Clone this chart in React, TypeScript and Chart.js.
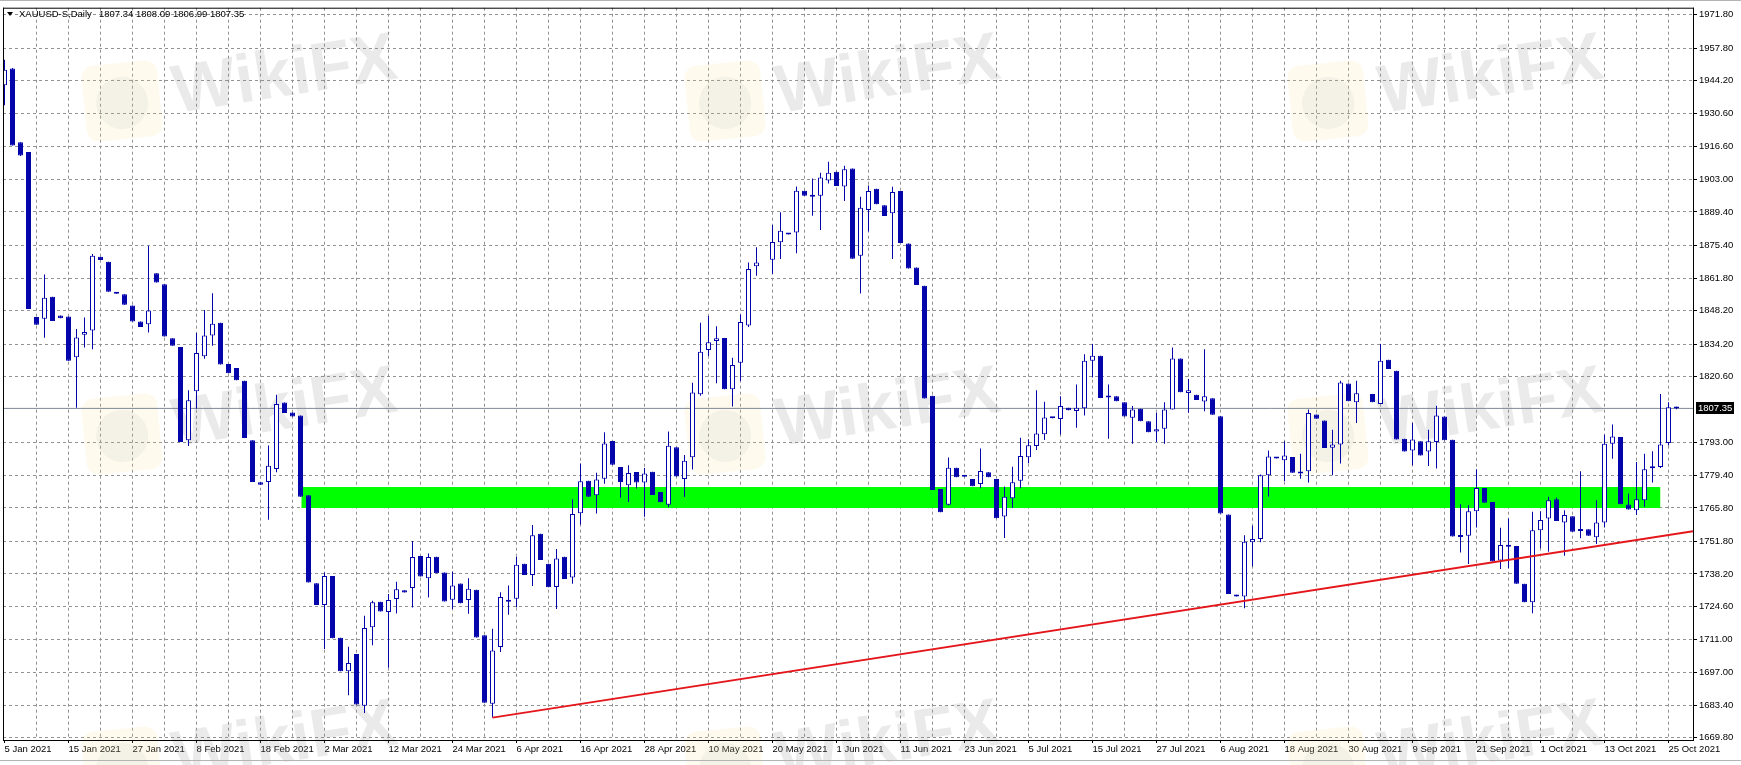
import React, { useEffect, useRef } from 'react';
import { Chart, registerables } from 'chart.js';

Chart.register(...registerables);

// XAUUSD daily bars, 5 Jan 2021 .. 26 Oct 2021 (index = bar number, null = no bar drawn)
const open = [
  1942.3, 1949.3, 1918.5, 1914.4, 1845.5, 1844.8, 1854.0, 1846.1, 1845.7, 1828.7,
  1838.1, 1839.9, 1870.7, 1868.6, 1855.8, 1855.0, 1850.3, 1843.6, 1842.5, 1863.8,
  1859.2, 1836.7, 1833.0, 1794.0, 1814.5, 1829.1, 1837.8, 1843.1, 1825.9, 1824.2,
  1818.9, 1794.0, 1776.5, 1776.6, 1782.0, 1809.8, 1805.6, 1804.4, 1771.1, 1734.3,
  1725.2, 1737.4, 1711.6, 1697.6, 1704.8, 1683.2, 1715.9, 1726.6, 1722.3, 1727.7,
  1731.4, 1732.3, 1745.7, 1736.4, 1745.4, 1738.8, 1727.4, 1734.2, 1727.3, 1731.6,
  1712.6, 1684.0, 1707.7, 1726.6, 1727.8, 1742.5, 1737.8, 1755.0, 1742.5, 1732.8,
  1745.4, 1736.7, 1763.6, 1777.1, 1771.1, 1778.0, 1793.7, 1782.9, 1775.2, 1780.8,
  1776.4, 1780.9, 1772.4, 1767.1, 1791.1, 1777.9, 1786.9, 1813.3, 1831.7, 1835.5,
  1836.8, 1815.3, 1826.4, 1842.0, 1866.7, null, 1869.4, 1876.7, 1880.5, 1880.8,
  1898.3, 1895.8, 1896.2, 1902.5, 1906.2, 1900.0, 1907.6, 1871.1, 1890.2, 1899.1,
  1892.2, 1888.9, 1898.1, 1876.2, 1866.2, 1858.6, 1812.6, 1773.7, 1767.1, 1782.6,
  1779.0, 1777.9, 1775.8, 1780.7, 1777.9, 1762.2, 1769.8, 1777.1, 1786.9, 1791.6,
  1796.6, 1803.4, 1802.9, 1807.6, 1806.3, 1807.4, 1827.3, 1829.3, 1812.3, 1812.4,
  1809.9, 1803.4, 1807.2, 1802.0, 1797.7, 1798.8, 1806.9, 1828.2, 1813.8, 1813.0,
  1810.2, 1811.6, 1804.1, 1763.0, 1729.5, 1728.8, 1751.4, 1752.8, 1779.4, 1786.9,
  1785.7, 1787.0, 1780.7, 1781.1, 1804.8, 1802.3, 1790.9, 1792.3, 1817.8, 1809.9,
  null, 1813.4, 1809.2, 1827.7, 1823.1, 1794.7, 1789.8, 1793.6, 1789.4, 1793.3,
  1804.0, 1794.3, 1754.0, 1754.2, 1764.4, 1774.1, 1768.3, 1743.8, 1749.9, 1749.9,
  1734.1, 1726.4, 1756.5, 1761.4, 1769.4, 1759.7, 1762.3, 1756.5, 1756.9, 1753.5,
  1759.7, 1792.6, 1795.4, 1767.2, 1764.8, 1769.0, 1782.7, 1782.9, 1792.9, 1807.34,
];

const high = [
  1953.0, 1949.5, 1918.5, 1914.4, 1845.5, 1863.3, 1854.0, 1846.1, 1845.7, 1840.5,
  1845.3, 1871.8, 1870.7, 1868.6, 1855.8, 1855.0, 1850.3, 1843.6, 1875.3, 1863.8,
  1859.2, 1836.7, 1833.0, 1814.9, 1838.8, 1848.5, 1855.4, 1843.1, 1825.9, 1824.2,
  1818.9, 1794.0, 1776.5, 1791.9, 1813.0, 1809.8, 1805.6, 1804.4, 1771.1, 1734.3,
  1738.8, 1737.4, 1711.6, 1707.8, 1704.8, 1720.7, 1727.0, 1726.6, 1729.8, 1734.9,
  1731.4, 1752.0, 1745.7, 1746.7, 1745.4, 1738.8, 1739.2, 1734.2, 1736.4, 1731.6,
  1712.6, 1715.3, 1730.6, 1733.4, 1745.4, 1742.5, 1758.6, 1755.0, 1742.5, 1748.6,
  1745.4, 1769.4, 1784.3, 1777.1, 1780.5, 1797.4, 1793.7, 1782.9, 1783.6, 1780.8,
  1782.5, 1780.9, 1772.4, 1797.7, 1791.1, 1787.9, 1818.1, 1843.1, 1845.9, 1841.7,
  1836.8, 1828.5, 1846.6, 1868.3, 1874.7, null, 1884.0, 1889.3, 1880.5, 1900.0,
  1898.3, 1903.4, 1905.8, 1910.4, 1906.2, 1908.7, 1907.6, 1895.8, 1900.5, 1899.1,
  1892.2, 1899.9, 1898.1, 1876.2, 1866.2, 1858.6, 1812.6, 1773.7, 1786.8, 1782.6,
  1779.0, 1777.9, 1790.6, 1780.7, 1777.9, 1774.7, 1783.0, 1795.1, 1794.5, 1814.9,
  1810.1, 1803.4, 1812.4, 1807.6, 1817.3, 1830.0, 1834.2, 1829.3, 1817.3, 1812.4,
  1809.9, 1808.3, 1807.2, 1802.0, 1805.5, 1809.9, 1832.8, 1828.2, 1819.6, 1813.0,
  1832.1, 1811.6, 1804.1, 1763.0, 1729.5, 1754.4, 1758.3, 1779.7, 1789.8, 1786.9,
  1793.6, 1787.0, 1788.4, 1806.9, 1804.8, 1802.3, 1798.4, 1818.9, 1817.8, 1818.9,
  null, 1813.4, 1834.2, 1827.7, 1823.1, 1794.7, 1801.3, 1793.6, 1798.4, 1808.5,
  1804.0, 1794.3, 1767.3, 1766.9, 1781.9, 1774.1, 1768.3, 1757.5, 1761.4, 1749.9,
  1734.1, 1764.2, 1764.4, 1770.4, 1770.0, 1764.8, 1762.3, 1781.1, 1756.9, 1769.0,
  1796.3, 1800.6, 1795.4, 1771.8, 1785.0, 1788.4, 1789.5, 1813.4, 1809.9, 1808.09,
];

const low = [
  1934.0, 1917.2, 1912.8, 1848.9, 1842.3, 1836.9, 1843.9, 1845.0, 1827.3, 1807.6,
  1832.8, 1832.1, 1869.3, 1856.1, 1855.2, 1850.6, 1843.6, 1841.3, 1839.1, 1859.9,
  1837.4, 1833.5, 1793.3, 1791.6, 1807.2, 1828.1, 1833.5, 1825.7, 1822.0, 1819.1,
  1795.0, 1776.6, 1775.5, 1760.8, 1780.7, 1805.4, 1804.0, 1770.4, 1734.6, 1725.2,
  1706.9, 1711.3, 1697.6, 1687.5, 1683.7, 1680.1, 1708.4, 1722.5, 1699.0, 1721.7,
  1730.5, 1724.2, 1737.1, 1728.4, 1738.5, 1726.7, 1723.6, 1726.0, 1721.6, 1711.7,
  1684.4, 1678.2, 1705.6, 1721.2, 1724.3, 1737.8, 1733.2, 1744.0, 1732.7, 1723.6,
  1736.1, 1734.1, 1758.9, 1770.4, 1763.5, 1775.9, 1783.8, 1770.0, 1768.3, 1773.9,
  1762.1, 1771.2, 1768.2, 1766.1, 1778.9, 1770.3, 1781.8, 1812.6, 1829.2, 1817.9,
  1815.3, 1808.1, 1818.8, 1841.4, 1862.8, null, 1863.6, 1869.7, 1880.0, 1872.2,
  1896.2, 1887.8, 1881.9, 1901.3, 1900.2, 1894.0, 1869.9, 1855.3, 1881.2, 1892.6,
  1887.7, 1869.7, 1876.4, 1865.8, 1858.9, 1811.5, 1773.3, 1764.0, 1766.8, 1778.6,
  1778.8, 1774.8, 1774.0, 1778.6, 1761.5, 1753.2, 1765.7, 1774.0, 1784.4, 1790.0,
  1794.1, 1803.2, 1796.5, 1806.6, 1799.3, 1804.4, 1820.3, 1811.7, 1794.7, 1810.3,
  1804.0, 1792.6, 1802.0, 1797.4, 1793.3, 1792.6, 1806.9, 1814.1, 1805.5, 1810.9,
  1806.2, 1804.7, 1763.5, 1729.8, 1728.8, 1723.9, 1741.3, 1751.4, 1770.4, 1786.4,
  1776.9, 1780.5, 1778.0, 1776.4, 1803.0, 1790.8, 1779.4, 1784.3, 1810.3, 1801.3,
  null, 1809.9, 1809.2, 1823.8, 1794.4, 1789.4, 1783.6, 1787.7, 1783.3, 1782.2,
  1794.0, 1753.8, 1747.2, 1742.4, 1757.6, 1767.9, 1743.4, 1740.3, 1740.6, 1734.1,
  1726.4, 1721.8, 1748.9, 1747.5, 1760.3, 1745.8, 1755.8, 1753.1, 1754.2, 1750.7,
  1757.6, 1786.3, 1767.3, 1765.1, 1762.8, 1766.2, 1776.4, 1782.5, 1791.9, 1806.99,
];

const close = [
  1948.8, 1917.2, 1913.0, 1848.9, 1842.3, 1853.6, 1843.9, 1845.0, 1827.3, 1837.0,
  1839.3, 1871.1, 1869.3, 1856.1, 1855.2, 1850.6, 1843.6, 1841.3, 1848.2, 1859.9,
  1837.4, 1833.5, 1793.3, 1810.8, 1830.5, 1837.8, 1842.7, 1825.7, 1822.0, 1819.1,
  1795.0, 1776.6, 1775.5, 1783.4, 1809.2, 1805.4, 1804.0, 1770.4, 1734.6, 1725.2,
  1737.4, 1711.3, 1697.6, 1701.0, 1683.7, 1715.6, 1726.4, 1722.5, 1727.3, 1731.8,
  1730.5, 1745.3, 1737.1, 1745.3, 1738.5, 1726.7, 1733.4, 1726.0, 1732.0, 1711.7,
  1684.4, 1706.2, 1728.6, 1727.4, 1742.0, 1737.8, 1754.4, 1744.0, 1732.7, 1744.7,
  1736.1, 1763.2, 1776.9, 1770.4, 1777.7, 1792.7, 1783.8, 1776.6, 1780.4, 1776.4,
  1780.2, 1771.2, 1768.2, 1791.8, 1778.9, 1785.5, 1814.0, 1831.0, 1835.0, 1836.7,
  1815.3, 1825.5, 1843.4, 1865.6, 1868.3, null, 1876.8, 1881.6, 1880.0, 1898.3,
  1896.2, 1896.1, 1903.8, 1905.8, 1900.2, 1907.2, 1869.9, 1891.2, 1898.1, 1892.6,
  1887.7, 1897.7, 1876.4, 1865.8, 1858.9, 1811.5, 1773.3, 1764.0, 1782.6, 1778.6,
  1778.8, 1774.8, 1781.2, 1778.6, 1761.5, 1770.5, 1776.5, 1787.5, 1792.0, 1796.9,
  1803.6, 1803.2, 1808.3, 1806.6, 1807.6, 1827.3, 1829.3, 1811.7, 1811.9, 1810.3,
  1804.0, 1806.9, 1802.0, 1797.4, 1798.6, 1806.9, 1828.2, 1814.1, 1814.9, 1810.9,
  1812.4, 1804.7, 1763.5, 1729.8, 1728.8, 1751.7, 1752.8, 1779.4, 1787.3, 1786.4,
  1787.7, 1780.5, 1780.2, 1805.4, 1803.0, 1790.8, 1792.3, 1818.2, 1810.3, 1813.7,
  null, 1809.9, 1827.3, 1823.8, 1794.4, 1789.4, 1794.4, 1787.7, 1793.6, 1804.4,
  1794.0, 1753.8, 1753.6, 1764.4, 1774.1, 1767.9, 1743.4, 1750.3, 1749.6, 1734.1,
  1726.4, 1756.5, 1760.7, 1769.0, 1760.3, 1762.8, 1755.8, 1756.1, 1754.2, 1759.7,
  1792.6, 1795.6, 1767.3, 1765.1, 1769.4, 1781.9, 1782.3, 1792.3, 1807.8, 1807.35,
];

// one date label every 8 bars
const dateLabels = [
  '5 Jan 2021', '15 Jan 2021', '27 Jan 2021', '8 Feb 2021', '18 Feb 2021', '2 Mar 2021',
  '12 Mar 2021', '24 Mar 2021', '6 Apr 2021', '16 Apr 2021', '28 Apr 2021', '10 May 2021',
  '20 May 2021', '1 Jun 2021', '11 Jun 2021', '23 Jun 2021', '5 Jul 2021', '15 Jul 2021',
  '27 Jul 2021', '6 Aug 2021', '18 Aug 2021', '30 Aug 2021', '9 Sep 2021', '21 Sep 2021',
  '1 Oct 2021', '13 Oct 2021', '25 Oct 2021',
];

const priceTicks = [
  1971.8, 1957.8, 1944.2, 1930.6, 1916.6, 1903.0, 1889.4, 1875.4, 1861.8, 1848.2, 1834.2,
  1820.6, 1793.0, 1779.4, 1765.8, 1751.8, 1738.2, 1724.6, 1711.0, 1697.0, 1683.4, 1669.8,
];

// drawn objects: support zone and rising trend line
const zoneX = [37.1, 207.0];
const zoneY = [1765.8, 1774.5];
const trendX = [61, 211.06];
const trendY = [1678.2, 1756.0];

const X_MIN = -0.1875;
const X_MAX = 211.0625;
const Y_MIN = 1668.85;
const Y_MAX = 1974.71;

const BLUE = '#0404ac';
const GRID = '#929292';
const FONT = '"Liberation Sans", Arial, sans-serif';

const bars = open.map((_, i) => i).filter((i) => open[i] != null);
const lastClose = close[close.length - 1] as number;

const drawWatermark = (ctx: CanvasRenderingContext2D, ox: number, oy: number) => {
  ctx.save();
  ctx.translate(ox + 122, oy + 101);
  ctx.rotate(-0.1);
  ctx.fillStyle = 'rgba(248, 222, 150, 0.16)';
  ctx.beginPath();
  ctx.roundRect(-38, -38, 76, 76, 12);
  ctx.fill();
  ctx.fillStyle = 'rgba(130, 130, 130, 0.08)';
  ctx.beginPath();
  ctx.arc(0, 2, 26, 0, Math.PI * 2);
  ctx.fill();
  ctx.restore();

  ctx.save();
  ctx.translate(ox + 176, oy + 113);
  ctx.rotate(-0.155);
  ctx.font = `bold 68px ${FONT}`;
  ctx.fillStyle = 'rgba(150, 150, 150, 0.2)';
  ctx.textBaseline = 'alphabetic';
  ctx.fillText('WikiFX', 0, 0);
  ctx.restore();
};

const decorations = {
  id: 'decorations',
  beforeDatasetsDraw(chart: any) {
    const ctx = chart.ctx;
    for (const oy of [0, 333, 666]) {
      for (const ox of [0, 603, 1206]) drawWatermark(ctx, ox, oy);
    }
  },
  afterDraw(chart: any) {
    const { ctx, chartArea: a, scales } = chart;
    ctx.save();
    // window edge
    ctx.fillStyle = '#b4b4b4';
    ctx.fillRect(0, 0, chart.width, 1);
    ctx.fillRect(0, 760, chart.width, 1);
    // plot frame
    ctx.fillStyle = '#000';
    ctx.fillRect(a.left, a.top, a.right - a.left + 1, 1);
    ctx.fillRect(a.left, a.bottom, a.right - a.left + 1, 1);
    ctx.fillRect(a.left, a.top, 1, a.bottom - a.top + 1);
    ctx.fillRect(a.right, a.top, 1, a.bottom - a.top + 1);

    // symbol header
    ctx.beginPath();
    ctx.moveTo(7, 12);
    ctx.lineTo(13, 12);
    ctx.lineTo(10, 16);
    ctx.closePath();
    ctx.fill();
    ctx.font = `9.5px ${FONT}`;
    ctx.textBaseline = 'middle';
    ctx.textAlign = 'left';
    ctx.fillText('XAUUSD-S,Daily', 19, 14.5);
    ctx.fillText(
      `${open[open.length - 1]} ${high[high.length - 1]} ${low[low.length - 1]} ${lastClose}`,
      99,
      14.5,
    );

    // current price box on the axis
    const py = Math.round(scales.y.getPixelForValue(lastClose));
    ctx.fillStyle = '#000';
    ctx.fillRect(a.right + 3, py - 6, 38, 12);
    ctx.fillStyle = '#fff';
    ctx.fillText(lastClose.toFixed(2), a.right + 5, py + 0.5);
    ctx.restore();
  },
};

export default function App() {
  const canvasRef = useRef<HTMLCanvasElement>(null);

  useEffect(() => {
    document.body.style.margin = '0';
    const wicks = bars.map((i) => ({ x: i, y: [low[i], high[i]] }));
    const bodies = bars.map((i) => ({
      x: i,
      y: [open[i], close[i]],
      up: (close[i] as number) >= (open[i] as number),
    }));

    const chart = new Chart(canvasRef.current as HTMLCanvasElement, {
      type: 'bar',
      data: {
        datasets: [
          {
            type: 'line',
            label: 'trend',
            data: trendX.map((x, k) => ({ x, y: trendY[k] })),
            borderColor: '#e4161b',
            borderWidth: 2,
            pointRadius: 0,
            fill: false,
            order: 0,
          } as any,
          {
            type: 'bar',
            label: 'body',
            data: bodies,
            barThickness: 5,
            borderWidth: 1,
            borderColor: BLUE,
            backgroundColor: (c: any) => (c.raw && c.raw.up ? '#ffffff' : BLUE),
            borderSkipped: false,
            grouped: false,
            inflateAmount: 0,
            minBarLength: 2,
            order: 1,
          } as any,
          {
            type: 'bar',
            label: 'wick',
            data: wicks,
            barThickness: 1,
            borderWidth: 0,
            backgroundColor: BLUE,
            grouped: false,
            inflateAmount: 0,
            minBarLength: 1,
            order: 2,
          } as any,
          {
            type: 'line',
            label: 'last',
            data: [
              { x: X_MIN, y: lastClose },
              { x: X_MAX, y: lastClose },
            ],
            borderColor: '#7d8896',
            borderWidth: 1,
            pointRadius: 0,
            fill: false,
            order: 3,
          } as any,
          {
            type: 'line',
            label: 'zone',
            data: zoneX.map((x) => ({ x, y: zoneY[1] })),
            borderWidth: 0,
            borderColor: 'rgba(0,0,0,0)',
            backgroundColor: '#00ff00',
            pointRadius: 0,
            fill: { value: zoneY[0] },
            order: 4,
          } as any,
        ],
      },
      options: {
        responsive: true,
        maintainAspectRatio: false,
        animation: false,
        events: [],
        layout: { padding: { left: 3, top: 5, right: 0, bottom: 0 } },
        plugins: {
          legend: { display: false },
          tooltip: { enabled: false },
          filler: { drawTime: 'beforeDatasetsDraw' },
        } as any,
        scales: {
          x: {
            type: 'linear',
            position: 'bottom',
            min: X_MIN,
            max: X_MAX,
            offset: false,
            bounds: 'data',
            afterBuildTicks: (s: any) => {
              s.ticks = Array.from({ length: 53 }, (_, k) => ({ value: k * 4 }));
            },
            afterFit: (s: any) => {
              s.height = 25;
            },
            grid: {
              offset: false,
              color: (c: any) => (c.tick && c.tick.value === 0 ? 'rgba(0,0,0,0)' : GRID),
              lineWidth: 1,
              drawTicks: true,
              tickLength: 3,
              tickColor: (c: any) => (c.tick && c.tick.value % 8 === 0 ? '#000' : 'rgba(0,0,0,0)'),
            },
            border: { display: false, dash: [3, 3] },
            ticks: {
              autoSkip: false,
              maxRotation: 0,
              minRotation: 0,
              align: 'start',
              padding: 1,
              color: '#000',
              font: { family: FONT, size: 9.5 },
              callback: (v: any) => (v % 8 === 0 ? dateLabels[v / 8] : ''),
            },
          },
          y: {
            type: 'linear',
            position: 'right',
            min: Y_MIN,
            max: Y_MAX,
            bounds: 'data',
            afterBuildTicks: (s: any) => {
              s.ticks = priceTicks.map((v) => ({ value: v }));
            },
            afterFit: (s: any) => {
              s.width = 48;
            },
            grid: {
              color: GRID,
              lineWidth: 1,
              drawTicks: true,
              tickLength: 4,
              tickColor: '#000',
            },
            border: { display: false, dash: [3, 3] },
            ticks: {
              padding: 2,
              color: '#000',
              font: { family: FONT, size: 9.5 },
              callback: (v: any) => Number(v).toFixed(2),
            },
          },
        } as any,
      },
      plugins: [decorations],
    });

    return () => chart.destroy();
  }, []);

  return (
    <div style={{ position: 'relative', width: 1741, height: 765, background: '#ffffff' }}>
      <canvas ref={canvasRef} />
    </div>
  );
}
